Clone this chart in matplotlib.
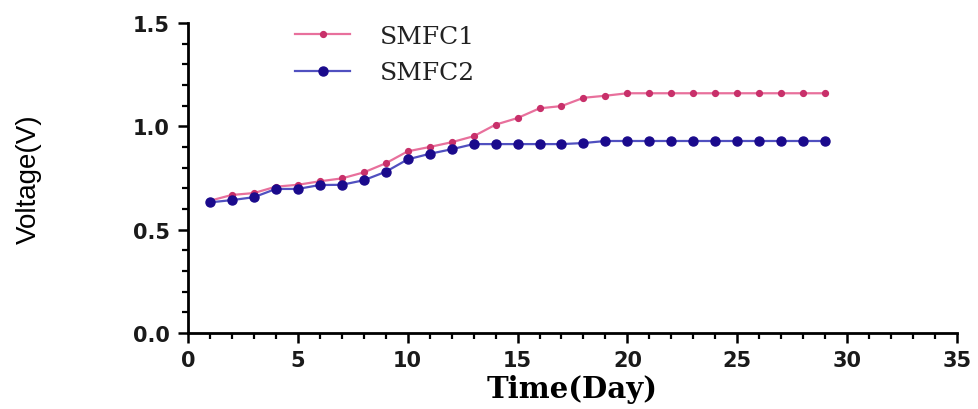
import matplotlib
matplotlib.use("Agg")
import matplotlib.pyplot as plt
from matplotlib.ticker import MultipleLocator

days = list(range(1, 30))
smfc1 = [0.640, 0.668, 0.677, 0.708, 0.717, 0.734, 0.748, 0.777, 0.821, 0.879,
         0.900, 0.923, 0.952, 1.008, 1.040, 1.087, 1.098, 1.138, 1.148, 1.160,
         1.160, 1.160, 1.160, 1.160, 1.160, 1.160, 1.160, 1.160, 1.160]
smfc2 = [0.632, 0.643, 0.657, 0.697, 0.697, 0.716, 0.717, 0.739, 0.780, 0.840,
         0.867, 0.889, 0.914, 0.914, 0.914, 0.914, 0.914, 0.919, 0.929, 0.929,
         0.929, 0.929, 0.929, 0.929, 0.929, 0.929, 0.929, 0.929, 0.929]
series_labels = ["SMFC1", "SMFC2"]
xticks = [0, 5, 10, 15, 20, 25, 30, 35]
yticks = [0.0, 0.5, 1.0, 1.5]

fig = plt.figure(figsize=(9.79, 4.10), dpi=100)
ax = fig.add_axes([0.192, 0.1854, 0.7855, 0.7561])

ax.plot(days, smfc1, color="#e8709c", lw=1.6, marker="o", markersize=4.2,
        markerfacecolor="#c8306a", markeredgecolor="#c8306a", label=series_labels[0])
ax.plot(days, smfc2, color="#5050c0", lw=1.6, marker="o", markersize=6.5,
        markerfacecolor="#1a0a8c", markeredgecolor="#1a0a8c", label=series_labels[1])

ax.set_xlim(0, 35)
ax.set_ylim(0, 1.5)
ax.set_xticks(xticks)
ax.set_yticks(yticks)
ax.set_xticklabels([str(t) for t in xticks])
ax.set_yticklabels([f"{t:.1f}" for t in yticks])
ax.xaxis.set_minor_locator(MultipleLocator(1))
ax.yaxis.set_minor_locator(MultipleLocator(0.1))

for s in ["top", "right"]:
    ax.spines[s].set_visible(False)
for s in ["left", "bottom"]:
    ax.spines[s].set_linewidth(2.0)
    ax.spines[s].set_color("black")

ax.tick_params(which="major", direction="out", length=7, width=1.8, pad=5)
ax.tick_params(axis="y", which="major", pad=6)
ax.tick_params(which="minor", direction="out", length=4, width=1.6)
for lab in ax.get_xticklabels() + ax.get_yticklabels():
    lab.set_fontfamily("DejaVu Sans")
    lab.set_fontweight("bold")
    lab.set_fontsize(15)
    lab.set_color("#1a1a1a")

ax.set_xlabel("Time(Day)", fontfamily="DejaVu Serif", fontweight="bold",
              fontsize=21, labelpad=3)
ax.set_ylabel("Voltage(V)", fontfamily="Liberation Sans", fontsize=20)
ax.yaxis.set_label_coords(-0.19, 0.5)

leg = ax.legend(loc="upper left", bbox_to_anchor=(295 / 979, 1 - 26 / 410),
                bbox_transform=fig.transFigure, frameon=False,
                prop={"family": "DejaVu Serif", "size": 18},
                handlelength=2.2, handletextpad=1.2, labelspacing=0.53,
                borderaxespad=0, borderpad=0)
for t in leg.get_texts():
    t.set_color("#222222")

fig.savefig("out.png", dpi=100)
